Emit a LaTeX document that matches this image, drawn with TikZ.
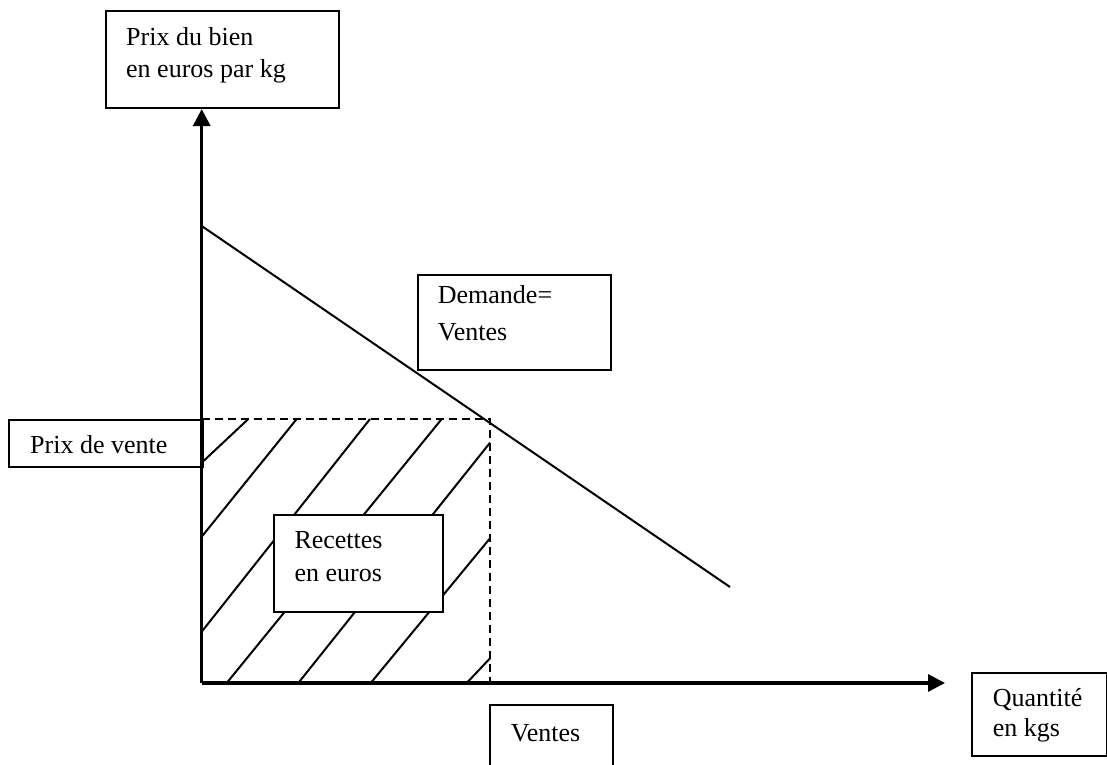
\documentclass[tikz,border=0pt]{standalone}
\usepackage{fontspec}
\setmainfont{Liberation Serif}
\usetikzlibrary{arrows.meta}
\begin{document}
\begin{tikzpicture}[x=1pt,y=-1pt,
  box/.style={draw, line width=2pt, fill=white, inner sep=0pt, anchor=north west},
  lbl/.style={anchor=base west, inner sep=0pt, font=\fontsize{26pt}{32pt}\selectfont},
  axisline/.style={line width=3.2pt, -{Triangle[length=17pt,width=17pt]}},
  thinline/.style={line width=2pt},
  dashline/.style={line width=2pt, dash pattern=on 8pt off 5pt}
]
\clip (0,0) rectangle (1107,764);
\fill[white] (0,0) rectangle (1107,764);
% hatching
\draw[thinline] (201.7,462.7) -- (248.3,419);
\draw[thinline] (201.7,536.7) -- (296.7,419);
\draw[thinline] (201.7,631.7) -- (370,419);
\draw[thinline] (226.7,683) -- (441.7,419);
\draw[thinline] (298.3,683) -- (490,442.7);
\draw[thinline] (370.7,683) -- (490,538.3);
\draw[thinline] (466.7,683) -- (490,658.3);
% demand line
\coordinate (d1) at (201.7,226);
\coordinate (d2) at (730,587);
\draw[thinline] (d1) -- (d2);
% dashed lines
\coordinate (O) at (201.7,683);
\coordinate (pq) at (490,419);
\draw[dashline] (O |- pq) -- (pq) -- (pq |- O);
% boxes
\node[box, minimum width=233pt, minimum height=97pt] (bien) at (105,10) {};
\node[box, minimum width=193pt, minimum height=95pt] (dem) at (417,274) {};
\node[box, minimum width=194pt, minimum height=47pt] (pv) at (8,419) {};
\node[box, minimum width=168.4pt, minimum height=96.4pt] (rec) at (273.3,514.3) {};
\node[box, minimum width=122.4pt, minimum height=90pt] (ven) at (489.3,704) {};
\node[box, minimum width=135.3pt, minimum height=83.3pt] (qte) at (970.7,671.7) {};
% texts
\node[lbl] (t1) at (126,45) {Prix du bien};
\node[lbl] (t2) at (126,77) {en euros par kg};
\node[lbl] (t3) at (437.7,303.3) {Demande=};
\node[lbl] (t4) at (437.7,340) {Ventes};
\node[lbl] (t5) at (30,453) {Prix de vente};
\node[lbl] (t6) at (294.3,548.3) {Recettes};
\node[lbl] (t7) at (294.3,581) {en euros};
\node[lbl] (t8) at (510.7,741.7) {Ventes};
\node[lbl] (t9) at (992.7,706.7) {Quantité};
\node[lbl] (t10) at (992.7,736) {en kgs};
% axes
\coordinate (xend) at (945,683);
\draw[axisline] (O) -- (O |- bien.south);
\draw[axisline] (O) -- (xend);
\end{tikzpicture}
\end{document}
